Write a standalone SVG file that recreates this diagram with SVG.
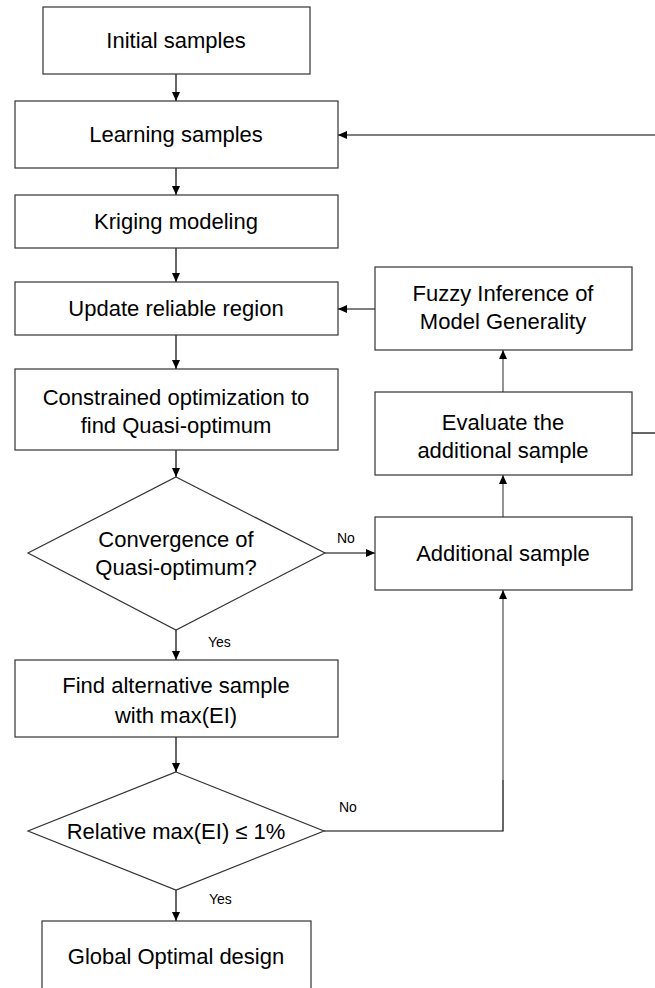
<svg xmlns="http://www.w3.org/2000/svg" width="655" height="988" viewBox="0 0 655 988">
  <defs>
    <marker id="arrow" markerUnits="userSpaceOnUse" markerWidth="10" markerHeight="9" refX="9" refY="4" orient="auto">
      <path d="M0,0 L9,4 L0,8 z" fill="#000"/>
    </marker>
    <style>
      .box { fill: #fff; stroke: #333; stroke-width: 1.2; }
      .txt { font-family: "Liberation Sans", Arial, sans-serif; font-size: 22px; fill: #000; text-anchor: middle; }
      .lbl { font-family: "Liberation Sans", Arial, sans-serif; font-size: 14px; fill: #000; }
      .ln { fill: none; stroke: #000; stroke-width: 1.2; }
      .lg { fill: none; stroke: #666; stroke-width: 1.4; }
    </style>
  </defs>
  <rect width="655" height="988" fill="#fff"/>

  <!-- connectors -->
  <g id="connectors">
    <line class="ln" x1="176" y1="74" x2="176" y2="101" marker-end="url(#arrow)"/>
    <line class="ln" x1="176" y1="168" x2="176" y2="195" marker-end="url(#arrow)"/>
    <line class="ln" x1="176" y1="248" x2="176" y2="282" marker-end="url(#arrow)"/>
    <line class="ln" x1="176" y1="335" x2="176" y2="369" marker-end="url(#arrow)"/>
    <line class="ln" x1="176" y1="450" x2="176" y2="477" marker-end="url(#arrow)"/>
    <line class="ln" x1="176" y1="630" x2="176" y2="660" marker-end="url(#arrow)"/>
    <line class="ln" x1="176" y1="737" x2="176" y2="772" marker-end="url(#arrow)"/>
    <line class="ln" x1="176" y1="890" x2="176" y2="921" marker-end="url(#arrow)"/>
    <!-- No branch of first decision -->
    <line class="ln" x1="325" y1="553" x2="375" y2="553" marker-end="url(#arrow)"/>
    <!-- No branch of second decision -->
    <polyline class="ln" points="324,831 503,831 503,780"/>
    <line class="lg" x1="503" y1="780" x2="503" y2="590" marker-end="url(#arrow)"/>
    <!-- right-hand loop -->
    <line class="lg" x1="503" y1="517" x2="503" y2="475" marker-end="url(#arrow)"/>
    <line class="lg" x1="503" y1="392" x2="503" y2="350" marker-end="url(#arrow)"/>
    <line class="ln" x1="375" y1="309" x2="338" y2="309" marker-end="url(#arrow)"/>
    <line class="ln" x1="632" y1="433" x2="660" y2="433"/>
    <line class="ln" x1="660" y1="135" x2="338" y2="135" marker-end="url(#arrow)"/>
  </g>

  <g id="initial">
    <rect class="box" x="43" y="7" width="267" height="67"/>
    <text class="txt" x="176" y="48">Initial samples</text>
  </g>
  <g id="learning">
    <rect class="box" x="15" y="101" width="323" height="67"/>
    <text class="txt" x="176" y="142">Learning samples</text>
  </g>
  <g id="kriging">
    <rect class="box" x="15" y="195" width="323" height="53"/>
    <text class="txt" x="176" y="229">Kriging modeling</text>
  </g>
  <g id="update">
    <rect class="box" x="15" y="282" width="323" height="53"/>
    <text class="txt" x="176" y="316">Update reliable region</text>
  </g>
  <g id="constrained">
    <rect class="box" x="15" y="369" width="323" height="81"/>
    <text class="txt" x="176" y="405">Constrained optimization to</text>
    <text class="txt" x="176" y="433">find Quasi-optimum</text>
  </g>
  <g id="convergence">
    <polygon class="box" points="176,477 325,553 176,630 28,553"/>
    <text class="txt" x="176" y="547">Convergence of</text>
    <text class="txt" x="176" y="575">Quasi-optimum?</text>
    <text class="lbl" x="337" y="543">No</text>
    <text class="lbl" x="208" y="647">Yes</text>
  </g>
  <g id="find-alternative">
    <rect class="box" x="15" y="660" width="323" height="77"/>
    <text class="txt" x="176" y="693">Find alternative sample</text>
    <text class="txt" x="176" y="723">with max(EI)</text>
  </g>
  <g id="relative">
    <polygon class="box" points="176,772 324,831 176,890 28,831"/>
    <text class="txt" x="176" y="839">Relative max(EI) ≤ 1%</text>
    <text class="lbl" x="339" y="812">No</text>
    <text class="lbl" x="209" y="904">Yes</text>
  </g>
  <g id="global">
    <rect class="box" x="42" y="921" width="269" height="90"/>
    <text class="txt" x="176" y="964">Global Optimal design</text>
  </g>
  <g id="fuzzy">
    <rect class="box" x="375" y="267" width="257" height="83"/>
    <text class="txt" x="503" y="301">Fuzzy Inference of</text>
    <text class="txt" x="503" y="329">Model Generality</text>
  </g>
  <g id="evaluate">
    <rect class="box" x="375" y="392" width="257" height="83"/>
    <text class="txt" x="503" y="430">Evaluate the</text>
    <text class="txt" x="503" y="458">additional sample</text>
  </g>
  <g id="additional">
    <rect class="box" x="375" y="517" width="257" height="73"/>
    <text class="txt" x="503" y="561">Additional sample</text>
  </g>
</svg>
